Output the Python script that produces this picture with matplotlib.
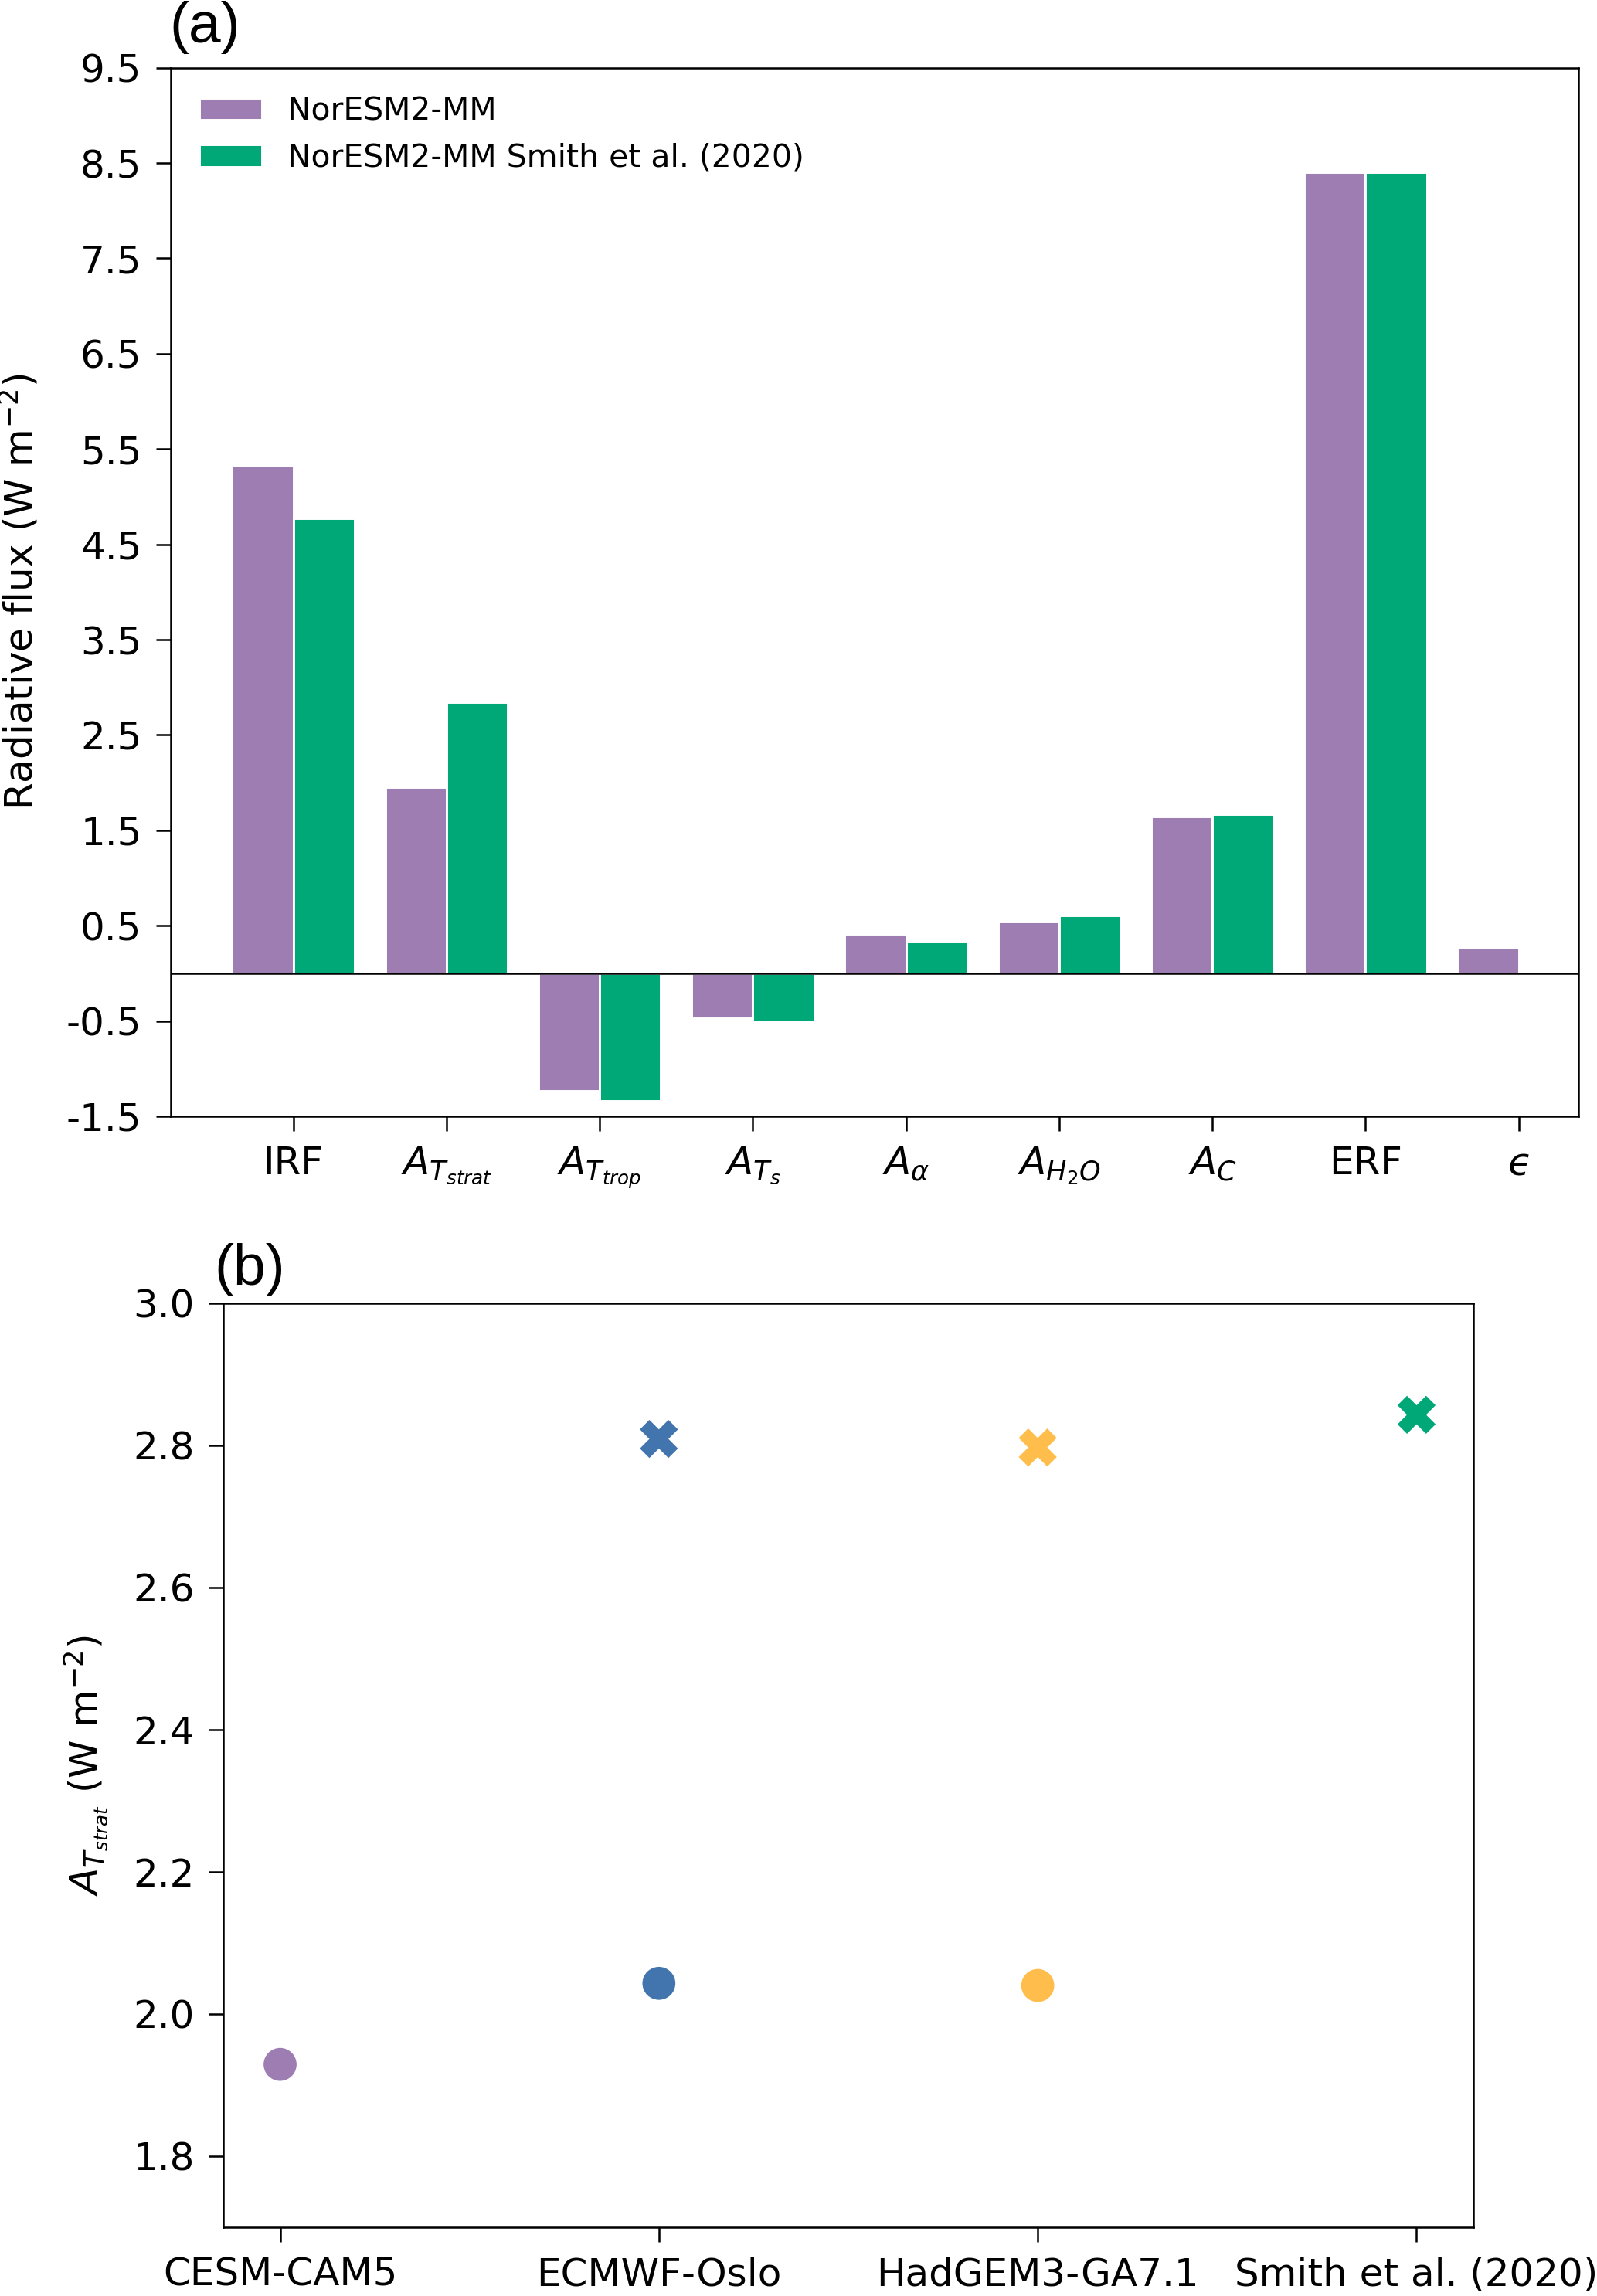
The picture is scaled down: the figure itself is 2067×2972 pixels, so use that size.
import matplotlib
matplotlib.use("Agg")
import matplotlib.pyplot as plt
import numpy as np

plt.rcParams['axes.unicode_minus'] = False
plt.rcParams['font.family'] = 'DejaVu Sans'

# panel (a): feedback decomposition
terms = ['IRF', r'$A_{T_{strat}}$', r'$A_{T_{trop}}$', r'$A_{T_s}$', r'$A_{\alpha}$',
         r'$A_{H_2O}$', r'$A_C$', 'ERF', '$\u03f5$']
noresm = [5.32, 1.955, -1.235, -0.47, 0.41, 0.54, 1.645, 8.40, 0.27]
noresm_smith = [4.77, 2.84, -1.34, -0.50, 0.34, 0.605, 1.665, 8.40, np.nan]
bar_labels = ['NorESM2-MM', 'NorESM2-MM Smith et al. (2020)']

# panel (b): stratospheric temperature adjustment
models = ['CESM-CAM5', 'ECMWF-Oslo', 'HadGEM3-GA7.1', 'Smith et al. (2020)']
tstrat_dot = [1.929, 2.043, 2.04, np.nan]
tstrat_cross = [np.nan, 2.809, 2.797, 2.843]

purple = '#9e7eb2'
green = '#00a878'
blue = '#4275ae'
yellow = '#ffbe4c'
model_colors = [purple, blue, yellow, green]

fig = plt.figure(figsize=(2067 / 300, 2972 / 300), dpi=300)

ax = fig.add_axes([0.1069, 0.5138, 0.8815, 0.4567])
x = np.arange(len(terms))
ax.bar(x - 0.2, noresm, 0.4, color=purple, edgecolor='white', linewidth=0.7, label=bar_labels[0])
ax.bar(x + 0.2, noresm_smith, 0.4, color=green, edgecolor='white', linewidth=0.7, label=bar_labels[1])
ax.axhline(0, color='k', lw=0.6)
ax.set_xlim(-0.8, 8.39)
ax.set_ylim(-1.5, 9.5)
ax.set_yticks(np.arange(-1.5, 9.6, 1.0))
ax.set_xticks(x)
ax.set_xticklabels(terms)
ax.set_ylabel(r'Radiative flux (W m$^{-2}$)', fontsize=12, labelpad=8)
ax.legend(loc='upper left', frameon=False, fontsize=9.8)

ax2 = fig.add_axes([0.1398, 0.0300, 0.7828, 0.4024])
xm = np.arange(len(models))
ax2.scatter(xm, tstrat_dot, c=model_colors, marker='o', s=105, linewidths=0)
ax2.scatter(xm, tstrat_cross, c=model_colors, marker='X', s=140, linewidths=0)
ax2.set_xlim(-0.15, 3.15)
ax2.set_ylim(1.7, 3.0)
ax2.set_yticks([1.8, 2.0, 2.2, 2.4, 2.6, 2.8, 3.0])
ax2.set_xticks(xm)
ax2.set_xticklabels(models)
ax2.set_ylabel(r'$A_{T_{strat}}$ (W m$^{-2}$)', fontsize=12, labelpad=7)

for a in (ax, ax2):
    a.tick_params(labelsize=12, length=4.5, width=0.6, pad=4.5)
    for s in a.spines.values():
        s.set_linewidth(0.6)

fig.text(0.106, 0.9765, '(a)', family='Liberation Sans', fontsize=18, va='bottom')
fig.text(0.134, 0.4355, '(b)', family='Liberation Sans', fontsize=18, va='bottom')

fig.savefig('out.png', dpi=300)
